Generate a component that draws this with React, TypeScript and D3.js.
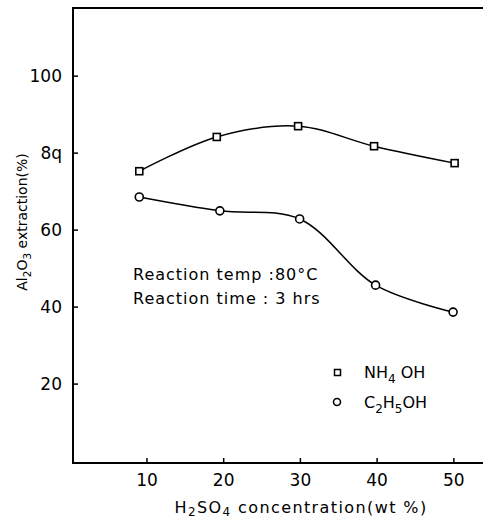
import React, { useEffect, useRef } from "react"
import * as d3 from "d3"

// values
const nh4ohX = [9, 19.1, 29.7, 39.6, 50.1]
const nh4ohY = [75.3, 84.2, 87.0, 81.8, 77.4]
const c2h5ohX = [9, 19.5, 29.9, 39.8, 49.9]
const c2h5ohY = [68.6, 65.0, 62.9, 45.7, 38.7]
const xTicks = [10, 20, 30, 40, 50]
const yTicks = [20, 40, 60, 80, 100]
const yTickLabels = ["20", "40", "60", "8q", "100"]

const W = 484
const H = 522
const FONT = "'DejaVu Sans', sans-serif"

type Part = [string, boolean]

export default function App() {
  const ref = useRef<SVGSVGElement>(null)

  useEffect(() => {
    const svg = d3.select(ref.current)
    svg.selectAll("*").remove()

    const x = d3.scaleLinear().domain([0.36, 53.8]).range([73, 483])
    const y = d3.scaleLinear().domain([-0.5, 117.7]).range([463, 8])

    const g = svg.append("g")

    // writes text with subscripts into a <text>
    const withSubs = (t: any, parts: Part[], size: number, subSize: number, shift: number) => {
      let prev = false
      parts.forEach(([s, sub]) => {
        t.append("tspan")
          .attr("dy", (sub ? shift : 0) - (prev ? shift : 0))
          .style("font-size", (sub ? subSize : size) + "px")
          .text(s)
        prev = sub
      })
    }

    // frame: top, left, bottom
    g.append("path")
      .attr("d", `M${x(53.8)},${y(117.7)} L${x(0.36)},${y(117.7)} L${x(0.36)},${y(-0.5)} L${x(53.8)},${y(-0.5)}`)
      .attr("fill", "none")
      .attr("stroke", "#000")
      .attr("stroke-width", 2)

    // y ticks (inward)
    g.selectAll("line.yt")
      .data(yTicks)
      .enter()
      .append("line")
      .attr("x1", x(0.36))
      .attr("x2", x(0.36) + 5)
      .attr("y1", (d) => y(d))
      .attr("y2", (d) => y(d))
      .attr("stroke", "#000")
      .attr("stroke-width", 1.5)

    g.selectAll("text.yl")
      .data(yTicks)
      .enter()
      .append("text")
      .attr("x", 62)
      .attr("y", (d) => y(d))
      .attr("dy", "0.36em")
      .attr("text-anchor", "end")
      .style("font-family", FONT)
      .style("font-size", "17px")
      .text((d, i) => yTickLabels[i])

    // x ticks (inward)
    g.selectAll("line.xt")
      .data(xTicks)
      .enter()
      .append("line")
      .attr("x1", (d) => x(d))
      .attr("x2", (d) => x(d))
      .attr("y1", y(-0.5))
      .attr("y2", y(-0.5) - 5)
      .attr("stroke", "#000")
      .attr("stroke-width", 1.5)

    g.selectAll("text.xl")
      .data(xTicks)
      .enter()
      .append("text")
      .attr("x", (d) => x(d))
      .attr("y", 480)
      .attr("dy", "0.36em")
      .attr("text-anchor", "middle")
      .style("font-family", FONT)
      .style("font-size", "17px")
      .text((d) => d)

    const line = d3
      .line<[number, number]>()
      .x((d) => x(d[0]))
      .y((d) => y(d[1]))
      .curve(d3.curveCatmullRom.alpha(0.5))

    const series = [
      { pts: nh4ohX.map((v, i) => [v, nh4ohY[i]] as [number, number]), shape: "square" },
      { pts: c2h5ohX.map((v, i) => [v, c2h5ohY[i]] as [number, number]), shape: "circle" },
    ]

    series.forEach((s) => {
      g.append("path")
        .attr("d", line(s.pts))
        .attr("fill", "none")
        .attr("stroke", "#000")
        .attr("stroke-width", 1.5)

      if (s.shape === "square") {
        g.selectAll(null)
          .data(s.pts)
          .enter()
          .append("rect")
          .attr("x", (d) => x(d[0]) - 3.5)
          .attr("y", (d) => y(d[1]) - 3.5)
          .attr("width", 7)
          .attr("height", 7)
          .attr("fill", "#fff")
          .attr("stroke", "#000")
          .attr("stroke-width", 1.6)
      } else {
        g.selectAll(null)
          .data(s.pts)
          .enter()
          .append("circle")
          .attr("cx", (d) => x(d[0]))
          .attr("cy", (d) => y(d[1]))
          .attr("r", 4)
          .attr("fill", "#fff")
          .attr("stroke", "#000")
          .attr("stroke-width", 1.6)
      }
    })

    // annotation
    const note = ["Reaction temp :80°C", "Reaction time : 3 hrs"]
    g.selectAll("text.note")
      .data(note)
      .enter()
      .append("text")
      .attr("x", 133)
      .attr("y", (d, i) => 274 + i * 24)
      .attr("dy", "0.36em")
      .style("font-family", FONT)
      .style("font-size", "16px")
      .style("letter-spacing", "1px")
      .text((d) => d)

    // legend
    g.append("rect")
      .attr("x", 334.5)
      .attr("y", 369.5)
      .attr("width", 6)
      .attr("height", 6)
      .attr("fill", "#fff")
      .attr("stroke", "#000")
      .attr("stroke-width", 1.5)
    g.append("circle")
      .attr("cx", 337)
      .attr("cy", 402)
      .attr("r", 3.5)
      .attr("fill", "#fff")
      .attr("stroke", "#000")
      .attr("stroke-width", 1.6)

    const legendText = (yy: number, parts: Part[]) => {
      const t = g
        .append("text")
        .attr("x", 364)
        .attr("y", yy + 6)
        .style("font-family", FONT)
      withSubs(t, parts, 16, 12, 5)
    }
    legendText(372, [["NH", false], ["4", true], [" OH", false]])
    legendText(402, [["C", false], ["2", true], ["H", false], ["5", true], ["OH", false]])

    // x axis title
    const xt = g
      .append("text")
      .attr("x", 301)
      .attr("y", 513)
      .attr("text-anchor", "middle")
      .style("font-family", FONT)
      .style("letter-spacing", "1.4px")
    withSubs(
      xt,
      [["H", false], ["2", true], ["SO", false], ["4", true], [" concentration(wt %)", false]],
      16,
      12,
      3
    )

    // y axis title
    const yt = g
      .append("text")
      .attr("transform", `translate(27,222) rotate(-90)`)
      .attr("text-anchor", "middle")
      .style("font-family", FONT)
    withSubs(
      yt,
      [["Al", false], ["2", true], ["O", false], ["3", true], [" extraction(%)", false]],
      14,
      10.5,
      4
    )
  }, [])

  return (
    <svg
      ref={ref}
      width={W}
      height={H}
      style={{ position: "absolute", left: 0, top: 0, background: "#fff" }}
    />
  )
}
